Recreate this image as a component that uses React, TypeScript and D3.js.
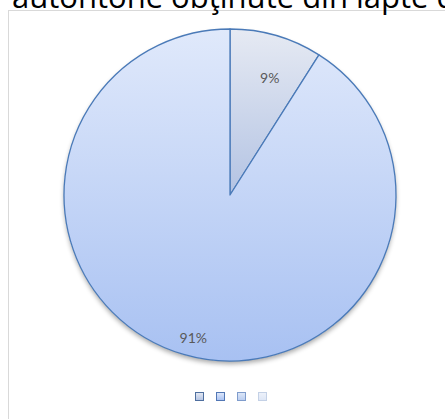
import React from "react";
import * as d3 from "d3";

const categories = ["", "", "", ""];
const values = [9, 91, 0, 0];
const labels = ["9%", "91%", "", ""];
const titleText = "autohtone obţinute din lapte de";

const W = 445;
const H = 419;
const cx = 230;
const cy = 195;
const R = 166;
const labelRadiusFactor = [0.75, 0.88, 0.8, 0.8];
const labelNudge = [[5, 4], [4, 4], [0, 0], [0, 0]];

const sliceGrads = [
  { id: "g0", top: "#e6eaf3", bottom: "#b3c3e3" },
  { id: "g1", top: "#e0e9fb", bottom: "#a8c1f2" },
  { id: "g2", top: "#dfe8f8", bottom: "#b9cdf0" },
  { id: "g3", top: "#eef2fa", bottom: "#dde6f6" },
];
const legendStroke = ["#4f6f9f", "#5277b5", "#7f9ccc", "#c4d1e6"];

export default function App() {
  const pie = d3.pie<number>().sort(null).value((d) => d);
  const arcs = pie(values);
  const arc = d3.arc<d3.PieArcDatum<number>>().innerRadius(0).outerRadius(R);

  const legendX = d3.scalePoint<number>().domain(d3.range(categories.length)).range([195, 258]);

  return (
    <svg width={W} height={H} style={{ position: "absolute", left: 0, top: 0 }}>
      <defs>
        {sliceGrads.map((g) => (
          <linearGradient key={g.id} id={g.id} x1="0" y1="0" x2="0" y2="1">
            <stop offset="0%" stopColor={g.top} />
            <stop offset="100%" stopColor={g.bottom} />
          </linearGradient>
        ))}
        <filter id="shadow" x="-20%" y="-20%" width="140%" height="140%">
          <feGaussianBlur in="SourceAlpha" stdDeviation="2.5" />
          <feOffset dx="0" dy="3" result="b" />
          <feComponentTransfer>
            <feFuncA type="linear" slope="0.35" />
          </feComponentTransfer>
          <feMerge>
            <feMergeNode />
            <feMergeNode in="SourceGraphic" />
          </feMerge>
        </filter>
      </defs>
      <rect x={0} y={0} width={W} height={H} fill="#ffffff" />
      <rect x={8.5} y={10.5} width={W + 10} height={H + 10} fill="#ffffff" stroke="#d9d9d9" strokeWidth={1} />
      <text x={12} y={8} fontFamily="'Open Sans', sans-serif" fontSize={31} fill="#000000">
        {titleText}
      </text>
      <g transform={`translate(${cx},${cy})`}>
        <circle r={R} fill="#ffffff" filter="url(#shadow)" />
        {arcs.map((a, i) =>
          a.value > 0 ? (
            <path key={i} d={arc(a) || ""} fill={`url(#${sliceGrads[i].id})`} stroke="#4a7ab8" strokeWidth={1.3} strokeLinejoin="round" />
          ) : null
        )}
        {arcs.map((a, i) => {
          if (!labels[i]) return null;
          const lr = R * labelRadiusFactor[i];
          const [lx, ly] = d3.arc<d3.PieArcDatum<number>>().innerRadius(lr).outerRadius(lr).centroid(a);
          return (
            <text key={"l" + i} x={lx + labelNudge[i][0]} y={ly + labelNudge[i][1]} textAnchor="middle" dominantBaseline="middle" fontFamily="Lato, 'Open Sans', sans-serif" fontSize={14} fill="#595959">
              {labels[i]}
            </text>
          );
        })}
      </g>
      {categories.map((c, i) => (
        <g key={"lg" + i}>
          <rect x={(legendX(i) as number) + 0.5} y={392.5} width={8} height={8} fill={`url(#${sliceGrads[i].id})`} stroke={legendStroke[i]} strokeWidth={1} />
          <text x={(legendX(i) as number) + 11} y={400} fontSize={11} fill="#595959">{c}</text>
        </g>
      ))}
    </svg>
  );
}
